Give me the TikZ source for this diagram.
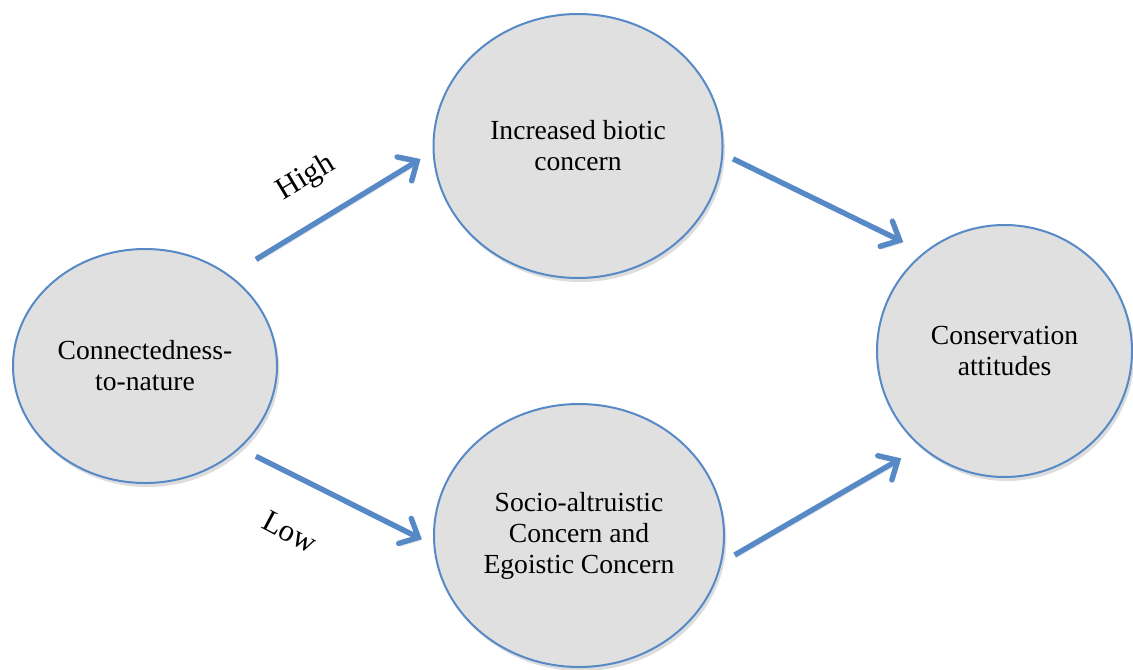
\documentclass[tikz,border=0pt]{standalone}
\usepackage{fontspec}
\setmainfont{Liberation Serif}
\usetikzlibrary{shapes.geometric,arrows.meta,shadows}
\definecolor{edgeblue}{RGB}{86,137,198}
\definecolor{bubblefill}{RGB}{224,224,224}
\begin{document}
\begin{tikzpicture}[x=0.5pt,y=-0.5pt,
  bubble/.style={ellipse, draw=edgeblue, line width=1pt, fill=bubblefill,
    inner sep=0pt, outer sep=0pt, align=center,
    font=\fontsize{13.8}{15.5}\selectfont,
    drop shadow={shadow xshift=1.2pt, shadow yshift=-2pt, opacity=0.22, fill=black!60}},
  flow/.style={draw=edgeblue, line width=2.7pt,
    -{Straight Barb[length=7.5pt,width=14pt,line cap=round]},
    preaction={draw=black!50, opacity=0.18,
      transform canvas={shift={(0.8pt,-1.5pt)}}}},
  tag/.style={font=\fontsize{15.5}{17}\selectfont, inner sep=0pt}
]
\useasboundingbox (0,0) rectangle (1133,669);

% concept bubbles
\node[bubble, minimum width=132pt, minimum height=117pt] (cn) at (145,366)
  {Connectedness-\\to-nature};
\node[bubble, minimum width=144.5pt, minimum height=132pt] (bio) at (578,146)
  {Increased biotic\\concern};
\node[bubble, minimum width=145pt, minimum height=131.5pt] (soc) at (579,535.5)
  {Socio-altruistic\\Concern and\\Egoistic Concern};
\node[bubble, minimum width=127.5pt, minimum height=126pt] (att) at (1004.5,351)
  {Conservation\\attitudes};

% pathways
\draw[flow, shorten <=15.75pt, shorten >=7.65pt] (cn.47.6) -- (bio.182.4);
\draw[flow, shorten <=9.35pt, shorten >=7pt] (cn.-41.6) -- (soc.184.2);
\draw[flow, shorten <=6pt, shorten >=12pt] (bio.-3.5) -- (att.129.7);
\draw[flow, shorten <=8pt, shorten >=11.7pt] (soc.-11.8) -- (att.229.5);

% pathway labels
\node[tag, rotate=31] (high) at (306,178) {High};
\node[tag, rotate=-28] (low) at (290,532) {Low};
\end{tikzpicture}
\end{document}
